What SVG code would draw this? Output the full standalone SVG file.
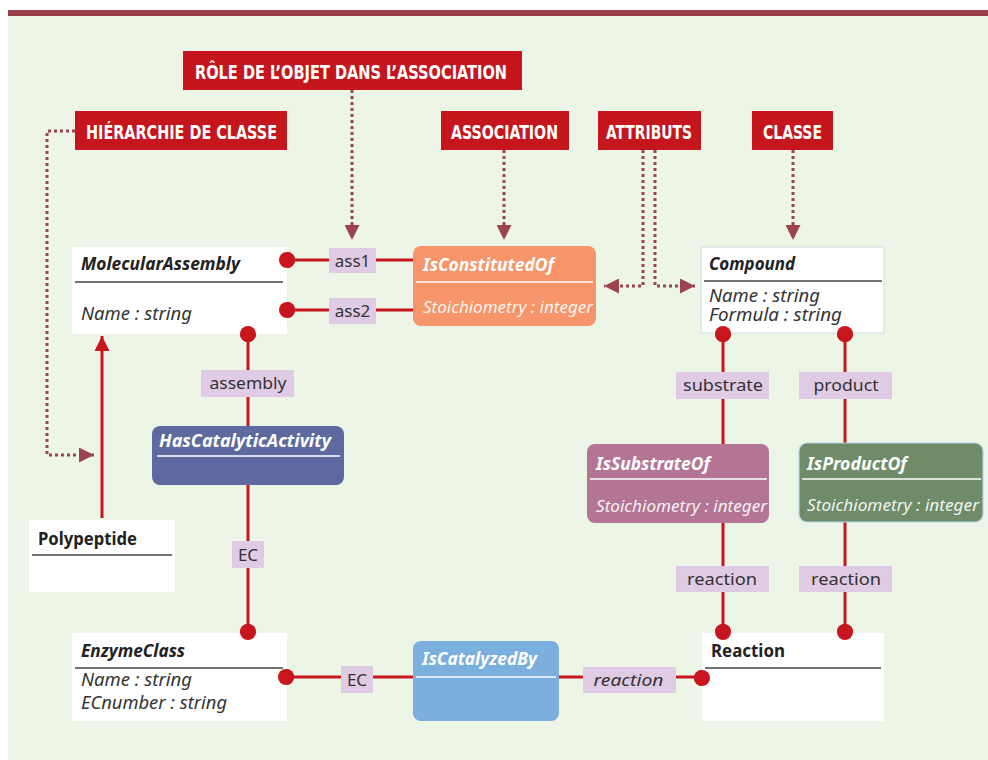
<svg xmlns="http://www.w3.org/2000/svg" width="988" height="760" viewBox="0 0 988 760">
<defs>
<style>
.tag{fill:#C4161C}
.tagt{fill:#fff;font-family:"DejaVu Sans Condensed","Roboto Condensed","Liberation Sans",sans-serif;font-weight:bold;font-size:19px}
.cls{fill:#fff}
.ttl{font-family:"Noto Sans","Open Sans",sans-serif;font-weight:bold;font-size:17px;fill:#222}
.it{font-style:italic}
.att{font-family:"Noto Sans","Open Sans",sans-serif;font-style:italic;font-size:18px;fill:#333}
.sep{stroke:#444;stroke-width:1.6}
.wsep{stroke:#fff;stroke-width:1.4}
.wt{font-family:"Noto Sans","Open Sans",sans-serif;font-weight:bold;font-style:italic;font-size:17px;fill:#fff}
.wa{font-family:"Noto Sans","Open Sans",sans-serif;font-style:italic;font-size:16px;fill:#fff;fill-opacity:0.92}
.lbl{fill:#DFCBE3}
.lt{font-family:"Noto Sans","Open Sans",sans-serif;font-size:17px;fill:#333;text-anchor:middle}
.ln{stroke:#C8161E;stroke-width:3;fill:none}
.dot{fill:#C8161E}
.dash{stroke:#9B4450;stroke-width:3;stroke-dasharray:3 3;fill:none}
</style>
<marker id="ah" viewBox="0 0 10 10" refX="10" refY="5" markerWidth="5" markerHeight="5" orient="auto" markerUnits="strokeWidth">
<path d="M0,0 L10,5 L0,10 z" fill="#9B4450"/>
</marker>
<marker id="rh" viewBox="0 0 10 10" refX="10" refY="5" markerWidth="5" markerHeight="5" orient="auto" markerUnits="strokeWidth">
<path d="M0,0 L10,5 L0,10 z" fill="#C8161E"/>
</marker>
</defs>
<rect x="0" y="0" width="988" height="760" fill="#fff"/>
<rect x="8" y="16" width="980" height="744" fill="#EDF5E7"/>
<rect x="8" y="10" width="980" height="6" fill="#973E48"/>

<g id="connectors">
<!-- dotted annotation arrows -->
<path class="dash" d="M352,90 V240" marker-end="url(#ah)"/>
<path class="dash" d="M75,131 H47 V455 H94" marker-end="url(#ah)"/>
<path class="dash" d="M504,150 V240" marker-end="url(#ah)"/>
<path class="dash" d="M643,150 V286 H604" marker-end="url(#ah)"/>
<path class="dash" d="M655,150 V286 H695" marker-end="url(#ah)"/>
<path class="dash" d="M793,150 V240" marker-end="url(#ah)"/>
<!-- solid associations -->
<path class="ln" d="M287,260 H415"/>
<path class="ln" d="M287,310 H415"/>
<path class="ln" d="M248,334 V632"/>
<path class="ln" d="M723,333 V632"/>
<path class="ln" d="M845,333 V632"/>
<path class="ln" d="M286,677 H702"/>
<path class="ln" d="M102,518 V336" marker-end="url(#rh)"/>
<circle class="dot" cx="287" cy="260" r="8"/>
<circle class="dot" cx="287" cy="310" r="8"/>
<circle class="dot" cx="248" cy="334" r="8"/>
<circle class="dot" cx="248" cy="632" r="8"/>
<circle class="dot" cx="723" cy="334" r="8"/>
<circle class="dot" cx="845" cy="334" r="8"/>
<circle class="dot" cx="723" cy="632" r="8"/>
<circle class="dot" cx="845" cy="632" r="8"/>
<circle class="dot" cx="286" cy="677" r="8"/>
<circle class="dot" cx="702" cy="678" r="8"/>
<!-- role labels -->
<g id="lbl-ass1"><rect class="lbl" x="329" y="248" width="47" height="25"/><text class="lt" x="352.5" y="267">ass1</text></g>
<g id="lbl-ass2"><rect class="lbl" x="329" y="298" width="47" height="26"/><text class="lt" x="352.5" y="317">ass2</text></g>
<g id="lbl-assembly"><rect class="lbl" x="201" y="370" width="93" height="27"/><text class="lt" x="248" y="389" textLength="77" lengthAdjust="spacingAndGlyphs">assembly</text></g>
<g id="lbl-ec1"><rect class="lbl" x="232" y="541" width="32" height="27"/><text class="lt" x="248" y="561">EC</text></g>
<g id="lbl-substrate"><rect class="lbl" x="676" y="372" width="93" height="27"/><text class="lt" x="723" y="391" textLength="80" lengthAdjust="spacingAndGlyphs">substrate</text></g>
<g id="lbl-product"><rect class="lbl" x="799" y="372" width="93" height="27"/><text class="lt" x="846" y="391" textLength="65" lengthAdjust="spacingAndGlyphs">product</text></g>
<g id="lbl-reaction1"><rect class="lbl" x="676" y="566" width="93" height="26"/><text class="lt" x="722" y="585" textLength="70" lengthAdjust="spacingAndGlyphs">reaction</text></g>
<g id="lbl-reaction2"><rect class="lbl" x="799" y="566" width="93" height="26"/><text class="lt" x="846" y="585" textLength="70" lengthAdjust="spacingAndGlyphs">reaction</text></g>
<g id="lbl-ec2"><rect class="lbl" x="341" y="666" width="32" height="27"/><text class="lt" x="357" y="686">EC</text></g>
<g id="lbl-reaction3"><rect class="lbl" x="583" y="667" width="93" height="26"/><text class="lt it" x="628.5" y="686" textLength="70" lengthAdjust="spacingAndGlyphs">reaction</text></g>
</g>

<!-- annotation tags -->
<g id="tag-role"><rect class="tag" x="183" y="51" width="339" height="39"/><text class="tagt" x="195" y="79" textLength="312" lengthAdjust="spacingAndGlyphs">RÔLE DE L’OBJET DANS L’ASSOCIATION</text></g>
<g id="tag-hierarchie"><rect class="tag" x="75" y="111" width="212" height="39"/><text class="tagt" x="86" y="139" textLength="191" lengthAdjust="spacingAndGlyphs">HIÉRARCHIE DE CLASSE</text></g>
<g id="tag-association"><rect class="tag" x="441" y="111" width="128" height="39"/><text class="tagt" x="451" y="139" textLength="107" lengthAdjust="spacingAndGlyphs">ASSOCIATION</text></g>
<g id="tag-attributs"><rect class="tag" x="598" y="111" width="103" height="39"/><text class="tagt" x="606" y="139" textLength="86" lengthAdjust="spacingAndGlyphs">ATTRIBUTS</text></g>
<g id="tag-classe"><rect class="tag" x="752" y="111" width="81" height="39"/><text class="tagt" x="763" y="139" textLength="59" lengthAdjust="spacingAndGlyphs">CLASSE</text></g>

<!-- classes -->
<g id="MolecularAssembly">
<rect class="cls" x="72" y="247" width="215" height="87"/>
<text class="ttl it" x="81" y="270" textLength="159" lengthAdjust="spacingAndGlyphs">MolecularAssembly</text>
<line class="sep" x1="75" y1="282" x2="283" y2="282"/>
<text class="att" x="81" y="320" textLength="111" lengthAdjust="spacingAndGlyphs">Name : string</text>
</g>
<g id="IsConstitutedOf">
<rect x="413" y="246" width="183" height="80" rx="8" fill="#F6956A"/>
<text class="wt" x="423" y="271" textLength="131" lengthAdjust="spacingAndGlyphs">IsConstitutedOf</text>
<line class="wsep" x1="416" y1="282" x2="593" y2="282"/>
<text class="wa" x="423" y="313" textLength="170" lengthAdjust="spacingAndGlyphs">Stoichiometry : integer</text>
</g>
<g id="Compound">
<rect class="cls" x="701" y="247" width="183" height="86" stroke="#D8E8EC" stroke-width="1.5"/>
<text class="ttl it" x="709" y="270" textLength="86" lengthAdjust="spacingAndGlyphs">Compound</text>
<line class="sep" x1="704" y1="281" x2="882" y2="281"/>
<text class="att" x="709" y="302" textLength="111" lengthAdjust="spacingAndGlyphs">Name : string</text>
<text class="att" x="709" y="321" textLength="133" lengthAdjust="spacingAndGlyphs">Formula : string</text>
</g>
<g id="HasCatalyticActivity">
<rect x="152" y="426" width="192" height="59" rx="8" fill="#5E6A9F"/>
<text class="wt" x="159" y="447" textLength="172" lengthAdjust="spacingAndGlyphs">HasCatalyticActivity</text>
<line class="wsep" x1="157" y1="456" x2="340" y2="456"/>
</g>
<g id="Polypeptide">
<rect class="cls" x="29" y="520" width="146" height="72"/>
<text class="ttl" x="38" y="545" textLength="99" lengthAdjust="spacingAndGlyphs">Polypeptide</text>
<line class="sep" x1="32" y1="555" x2="172" y2="555"/>
</g>
<g id="IsSubstrateOf">
<rect x="587" y="444" width="182" height="79" rx="8" fill="#B47595"/>
<text class="wt" x="596" y="470" textLength="114" lengthAdjust="spacingAndGlyphs">IsSubstrateOf</text>
<line class="wsep" x1="590" y1="479" x2="767" y2="479"/>
<text class="wa" x="596" y="512" textLength="171" lengthAdjust="spacingAndGlyphs">Stoichiometry : integer</text>
</g>
<g id="IsProductOf">
<rect x="799" y="443" width="184" height="79" rx="8" fill="#6E8C68" stroke="#B5D3E3" stroke-width="1.2"/>
<text class="wt" x="807" y="470" textLength="100" lengthAdjust="spacingAndGlyphs">IsProductOf</text>
<line class="wsep" x1="802" y1="479" x2="981" y2="479"/>
<text class="wa" x="807" y="511" textLength="172" lengthAdjust="spacingAndGlyphs">Stoichiometry : integer</text>
</g>
<g id="EnzymeClass">
<rect class="cls" x="72" y="633" width="215" height="88"/>
<text class="ttl it" x="81" y="657" textLength="104" lengthAdjust="spacingAndGlyphs">EnzymeClass</text>
<line class="sep" x1="75" y1="668" x2="283" y2="668"/>
<text class="att" x="81" y="686" textLength="111" lengthAdjust="spacingAndGlyphs">Name : string</text>
<text class="att" x="81" y="709" textLength="146" lengthAdjust="spacingAndGlyphs">ECnumber : string</text>
</g>
<g id="IsCatalyzedBy">
<rect x="413" y="641" width="146" height="80" rx="8" fill="#7BAFDE"/>
<text class="wt" x="422" y="665" textLength="115" lengthAdjust="spacingAndGlyphs">IsCatalyzedBy</text>
<line class="wsep" x1="416" y1="677" x2="556" y2="677"/>
</g>
<g id="Reaction">
<rect class="cls" x="702" y="633" width="182" height="88"/>
<text class="ttl" x="711" y="657" textLength="74" lengthAdjust="spacingAndGlyphs">Reaction</text>
<line class="sep" x1="705" y1="668" x2="881" y2="668"/>
</g>
<circle class="dot" cx="702" cy="678" r="8"/>
<circle class="dot" cx="723" cy="632" r="8"/>
<circle class="dot" cx="845" cy="632" r="8"/>
<circle class="dot" cx="248" cy="632" r="8"/>
<circle class="dot" cx="286" cy="677" r="8"/>
<circle class="dot" cx="287" cy="260" r="8"/>
<circle class="dot" cx="287" cy="310" r="8"/>
<circle class="dot" cx="248" cy="334" r="8"/>
<circle class="dot" cx="723" cy="334" r="8"/>
<circle class="dot" cx="845" cy="334" r="8"/>
</svg>
